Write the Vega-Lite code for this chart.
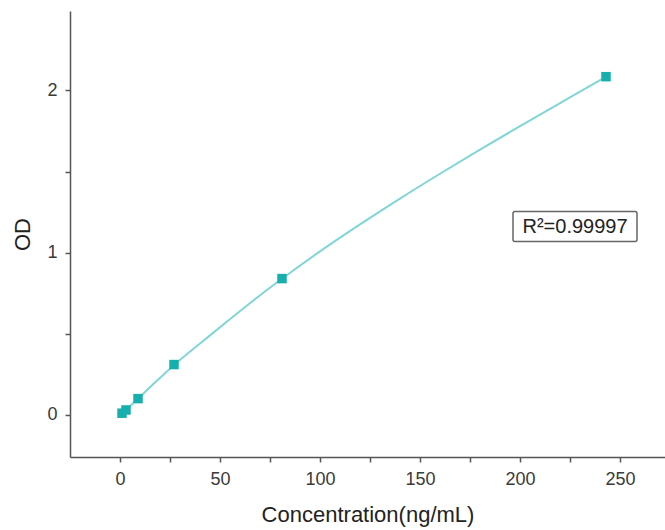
{
  "$schema": "https://vega.github.io/schema/vega-lite/v6.json",
  "width": 595,
  "height": 446,
  "autosize": "none",
  "padding": {"left": 70, "top": 11, "right": 0, "bottom": 73},
  "background": "white",
  "config": {
    "view": {"stroke": null},
    "font": "Liberation Sans",
    "axis": {
      "grid": false,
      "domainColor": "#555555",
      "domainWidth": 1.5,
      "tickColor": "#555555",
      "tickWidth": 1.5,
      "tickSize": 5,
      "labelFont": "Liberation Sans",
      "labelFontSize": 18,
      "labelColor": "#3a3a3a",
      "titleFont": "Liberation Sans",
      "titleFontSize": 22,
      "titleFontWeight": "normal",
      "titleColor": "#222222"
    }
  },
  "datasets": {
    "points": [
      {"conc": 1, "od": 0.01},
      {"conc": 3, "od": 0.03},
      {"conc": 9, "od": 0.10},
      {"conc": 27, "od": 0.31},
      {"conc": 81, "od": 0.84},
      {"conc": 243, "od": 2.085}
    ],
    "fit": [
      {"conc": 1, "od": 0.01},
      {"conc": 3, "od": 0.03},
      {"conc": 9, "od": 0.10},
      {"conc": 18, "od": 0.205},
      {"conc": 27, "od": 0.31},
      {"conc": 40, "od": 0.44},
      {"conc": 54, "od": 0.58},
      {"conc": 67, "od": 0.71},
      {"conc": 81, "od": 0.84},
      {"conc": 100, "od": 1.01},
      {"conc": 120, "od": 1.175},
      {"conc": 140, "od": 1.335},
      {"conc": 160, "od": 1.487},
      {"conc": 180, "od": 1.636},
      {"conc": 200, "od": 1.781},
      {"conc": 220, "od": 1.922},
      {"conc": 243, "od": 2.085}
    ],
    "note": [
      {"label": "R²=0.99997", "x1": 196.5, "x2": 258.5, "y1": 1.068, "y2": 1.253, "xm": 227.5, "ym": 1.16}
    ]
  },
  "layer": [
    {
      "data": {"name": "fit"},
      "mark": {"type": "line", "color": "#80d6d6", "strokeWidth": 2, "interpolate": "basis"},
      "encoding": {
        "x": {
          "field": "conc", "type": "quantitative",
          "scale": {"domain": [-25, 272.5], "nice": false, "zero": false},
          "axis": {
            "title": "Concentration(ng/mL)",
            "values": [0, 25, 50, 75, 100, 125, 150, 175, 200, 225, 250],
            "labelExpr": "datum.value % 50 === 0 ? format(datum.value, 'd') : ''",
            "labelPadding": 8,
            "titlePadding": 16
          }
        },
        "y": {
          "field": "od", "type": "quantitative",
          "scale": {"domain": [-0.26, 2.49], "nice": false, "zero": false},
          "axis": {
            "title": "OD",
            "values": [0, 0.5, 1, 1.5, 2],
            "labelExpr": "datum.value % 1 === 0 ? format(datum.value, 'd') : ''",
            "labelPadding": 8,
            "titlePadding": 12
          }
        }
      }
    },
    {
      "data": {"name": "points"},
      "mark": {"type": "square", "color": "#17aeae", "opacity": 1, "size": 90},
      "encoding": {
        "x": {"field": "conc", "type": "quantitative"},
        "y": {"field": "od", "type": "quantitative"}
      }
    },
    {
      "data": {"name": "note"},
      "mark": {"type": "rect", "fill": "white", "stroke": "#666666", "strokeWidth": 1.5, "cornerRadius": 2},
      "encoding": {
        "x": {"field": "x1", "type": "quantitative"},
        "x2": {"field": "x2"},
        "y": {"field": "y1", "type": "quantitative"},
        "y2": {"field": "y2"}
      }
    },
    {
      "data": {"name": "note"},
      "mark": {"type": "text", "fontSize": 20, "color": "#222222", "font": "Liberation Sans", "align": "center", "baseline": "middle"},
      "encoding": {
        "x": {"field": "xm", "type": "quantitative"},
        "y": {"field": "ym", "type": "quantitative"},
        "text": {"field": "label"}
      }
    }
  ]
}
